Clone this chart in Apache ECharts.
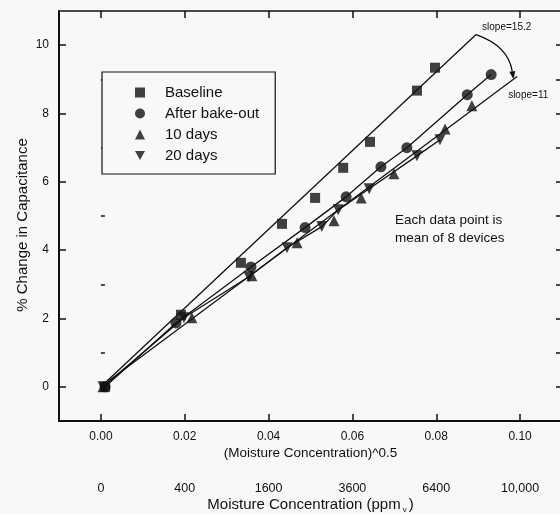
<!DOCTYPE html>
<html>
<head>
<meta charset="utf-8">
<script src="https://cdn.jsdelivr.net/npm/echarts@6/dist/echarts.min.js"></script>
<style>
  html, body { margin: 0; padding: 0; background: #f8f8f8; }
  #main { width: 560px; height: 514px; }
</style>
</head>
<body>
<div id="main"></div>
<script>
// x = (moisture concentration)^0.5, y = % change in capacitance
var baselineX = [0.001, 0.0191, 0.0334, 0.0432, 0.0511, 0.0578, 0.0642, 0.0754, 0.0797];
var baselineY = [0, 2.11, 3.63, 4.77, 5.53, 6.41, 7.17, 8.67, 9.34];
var bakeX = [0.001, 0.0179, 0.0358, 0.0487, 0.0585, 0.0668, 0.0730, 0.0874, 0.0931];
var bakeY = [0, 1.87, 3.51, 4.66, 5.56, 6.44, 7.00, 8.55, 9.14];
var day10X = [0.0005, 0.0217, 0.0360, 0.0468, 0.0556, 0.0621, 0.0699, 0.0821, 0.0885];
var day10Y = [0, 2.02, 3.25, 4.22, 4.86, 5.53, 6.24, 7.55, 8.23];
var day20X = [0.0005, 0.0198, 0.0353, 0.0444, 0.0527, 0.0566, 0.0640, 0.0754, 0.0809];
var day20Y = [0, 2.02, 3.22, 4.07, 4.69, 5.18, 5.80, 6.76, 7.23];

// fitted straight lines (start, end)
var fitBaseX = [0, 0.0895];
var fitBaseY = [0, 10.31];
var fitAgedX = [0, 0.0993];
var fitAgedY = [0, 9.08];

var xTicks = [0, 0.02, 0.04, 0.06, 0.08, 0.10];
var yMajor = [0, 2, 4, 6, 8, 10];
var yMinor = [1, 3, 5, 7, 9];
var yRight = [0, 1, 2, 3, 4, 5, 6, 7, 8, 9, 10];

var FONT = 'Liberation Sans, Arial, sans-serif';
var INK = '#111';

function pairs(xs, ys) {
  return xs.map(function (x, i) { return [x, ys[i]]; });
}

// sqrt scale label -> ppm
function ppmLabel(v) {
  var p = Math.round(Math.pow(v * 1000, 2));
  return p >= 10000 ? p.toLocaleString('en-US') : String(p);
}

var chart = echarts.init(document.getElementById('main'), null, { renderer: 'canvas' });

var lineStyle = { color: INK, width: 1.3 };

var option = {
  backgroundColor: '#f8f8f8',
  animation: false,
  grid: { left: 59, top: 11, width: 503, height: 410, outerBoundsMode: 'none', containLabel: false },
  legend: {
    orient: 'vertical',
    left: 102,
    top: 72,
    padding: [13, 16, 11, 33],
    itemWidth: 10,
    itemHeight: 10,
    itemGap: 6,
    borderColor: INK,
    borderWidth: 1.2,
    backgroundColor: '#f8f8f8',
    selectedMode: false,
    formatter: function (name) { return '{t|' + name + '}'; },
    textStyle: {
      fontSize: 15, color: INK, fontFamily: FONT,
      rich: { t: { fontSize: 15, color: INK, fontFamily: FONT, padding: [0, 0, 0, 15] } }
    },
    data: [
      { name: 'Baseline', icon: 'rect' },
      { name: 'After bake-out', icon: 'circle' },
      { name: '10 days', icon: 'triangle' },
      { name: '20 days', icon: 'path://M0,0L10,0L5,9Z' }
    ]
  },
  xAxis: [
    {
      type: 'value', min: -0.01, max: 0.11, position: 'bottom',
      axisLine: { show: true, onZero: false, lineStyle: { color: INK, width: 2 } },
      axisTick: { show: true, inside: true, length: 7, customValues: xTicks, lineStyle: { color: INK, width: 1.5 } },
      axisLabel: {
        customValues: xTicks, margin: 10, fontSize: 12, color: INK, fontFamily: FONT,
        formatter: function (v) { return v.toFixed(2); }
      },
      splitLine: { show: false },
      name: '(Moisture Concentration)^0.5', nameLocation: 'middle', nameGap: 25, nameMoveOverlap: false,
      nameTextStyle: { fontSize: 13.5, color: INK, fontFamily: FONT }
    },
    {
      type: 'value', min: -0.01, max: 0.11, position: 'bottom', offset: 51,
      axisLine: { show: false },
      axisTick: { show: false },
      axisLabel: { customValues: xTicks, margin: 10, fontSize: 12.5, color: INK, fontFamily: FONT, formatter: ppmLabel },
      splitLine: { show: false },
      name: '{a|Moisture Concentration (ppm}{s|v}{a|)}', nameLocation: 'middle', nameGap: 24, nameMoveOverlap: false,
      nameTextStyle: {
        fontFamily: FONT,
        rich: {
          a: { fontSize: 15, color: INK, fontFamily: FONT },
          s: { fontSize: 8, color: INK, fontFamily: FONT, padding: [10, 2, 0, 2] }
        }
      }
    },
    {
      type: 'value', min: -0.01, max: 0.11, position: 'top',
      axisLine: { show: true, onZero: false, lineStyle: { color: INK, width: 1.5 } },
      axisTick: { show: true, inside: true, length: 7, customValues: xTicks, lineStyle: { color: INK, width: 1.5 } },
      axisLabel: { show: false },
      splitLine: { show: false }
    }
  ],
  yAxis: [
    {
      type: 'value', min: -1, max: 11, position: 'left',
      axisLine: { show: true, onZero: false, lineStyle: { color: INK, width: 2 } },
      axisTick: { show: true, inside: true, length: 7, customValues: yMajor, lineStyle: { color: INK, width: 1.5 } },
      axisLabel: { customValues: yMajor, margin: 10, fontSize: 12, color: INK, fontFamily: FONT },
      splitLine: { show: false },
      name: '% Change in Capacitance', nameLocation: 'middle', nameGap: 29, nameMoveOverlap: false,
      nameTextStyle: { fontSize: 15, color: INK, fontFamily: FONT, padding: [0, 18, 0, 0] }
    },
    {
      type: 'value', min: -1, max: 11, position: 'left',
      axisLine: { show: false },
      axisTick: { show: true, inside: true, length: 4, customValues: yMinor, lineStyle: { color: INK, width: 1.5 } },
      axisLabel: { show: false },
      splitLine: { show: false }
    },
    {
      type: 'value', min: -1, max: 11, position: 'right',
      axisLine: { show: true, onZero: false, lineStyle: { color: INK, width: 1.5 } },
      axisTick: { show: true, inside: true, length: 6, customValues: yRight, lineStyle: { color: INK, width: 1.5 } },
      axisLabel: { show: false },
      splitLine: { show: false }
    }
  ],
  series: [
    // connecting / fitted lines
    { type: 'line', data: pairs(fitBaseX, fitBaseY), symbol: 'none', lineStyle: lineStyle, silent: true, z: 1 },
    { type: 'line', data: pairs(bakeX, bakeY), symbol: 'none', lineStyle: lineStyle, silent: true, z: 1 },
    { type: 'line', data: pairs(day20X, day20Y), symbol: 'none', lineStyle: lineStyle, silent: true, z: 1 },
    { type: 'line', data: pairs(fitAgedX, fitAgedY), symbol: 'none', lineStyle: lineStyle, silent: true, z: 1 },
    // data markers
    { name: 'Baseline', type: 'scatter', symbol: 'rect', symbolSize: 10, data: pairs(baselineX, baselineY), itemStyle: { color: INK }, z: 3 },
    { name: 'After bake-out', type: 'scatter', symbol: 'circle', symbolSize: 11, data: pairs(bakeX, bakeY), itemStyle: { color: INK }, z: 3 },
    { name: '10 days', type: 'scatter', symbol: 'triangle', symbolSize: 11, data: pairs(day10X, day10Y), itemStyle: { color: INK }, z: 3 },
    { name: '20 days', type: 'scatter', symbol: 'triangle', symbolRotate: 180, symbolSize: 11, data: pairs(day20X, day20Y), itemStyle: { color: INK }, z: 3 }
  ]
};

chart.setOption(option);

// slope annotation: curved arrow from the end of the baseline fit to the aged fit
var pB = chart.convertToPixel({ gridIndex: 0 }, [fitBaseX[1], fitBaseY[1]]);
var pA = chart.convertToPixel({ gridIndex: 0 }, [fitAgedX[1], fitAgedY[1]]);
var o = chart.convertToPixel({ gridIndex: 0 }, [0, 0]);
// arrow lands on the aged line at the same distance from the origin as the baseline end
var rB = Math.hypot(pB[0] - o[0], pB[1] - o[1]);
var rA = Math.hypot(pA[0] - o[0], pA[1] - o[1]);
var E = [o[0] + (pA[0] - o[0]) * rB / rA, o[1] + (pA[1] - o[1]) * rB / rA];
var S = pB;
var c = [E[0] - S[0], E[1] - S[1]];
var cl = Math.hypot(c[0], c[1]);
var perp = [-c[1] / cl, c[0] / cl];
if (perp[0] < 0) { perp = [-perp[0], -perp[1]]; }
var ctrl = [S[0] + c[0] / 2 + perp[0] * cl * 0.3, S[1] + c[1] / 2 + perp[1] * cl * 0.3];
var dv = [E[0] - ctrl[0], E[1] - ctrl[1]];
var dl = Math.hypot(dv[0], dv[1]);
dv = [dv[0] / dl, dv[1] / dl];
var nv = [-dv[1], dv[0]];
var bs = [E[0] - dv[0] * 8, E[1] - dv[1] * 8];

chart.setOption({
  graphic: [
    {
      type: 'bezierCurve', silent: true, z: 10,
      shape: { x1: S[0], y1: S[1], x2: bs[0], y2: bs[1], cpx1: ctrl[0], cpy1: ctrl[1] },
      style: { stroke: INK, fill: null, lineWidth: 1.3 }
    },
    {
      type: 'polygon', silent: true, z: 10,
      shape: { points: [E, [bs[0] + nv[0] * 3, bs[1] + nv[1] * 3], [bs[0] - nv[0] * 3, bs[1] - nv[1] * 3]] },
      style: { fill: INK }
    },
    {
      type: 'text', silent: true, z: 10, x: pB[0] + 6, y: pB[1] - 7,
      style: { text: 'slope=15.2', fontSize: 10, fontFamily: FONT, fill: INK, verticalAlign: 'middle' }
    },
    {
      type: 'text', silent: true, z: 10, x: pA[0] - 9, y: pA[1] + 19,
      style: { text: 'slope=11', fontSize: 10, fontFamily: FONT, fill: INK, verticalAlign: 'middle' }
    },
    {
      type: 'text', silent: true, z: 10, x: 395, y: 211,
      style: { text: 'Each data point is\nmean of 8 devices', fontSize: 13.5, lineHeight: 18, fontFamily: FONT, fill: INK }
    }
  ]
});
</script>
</body>
</html>
